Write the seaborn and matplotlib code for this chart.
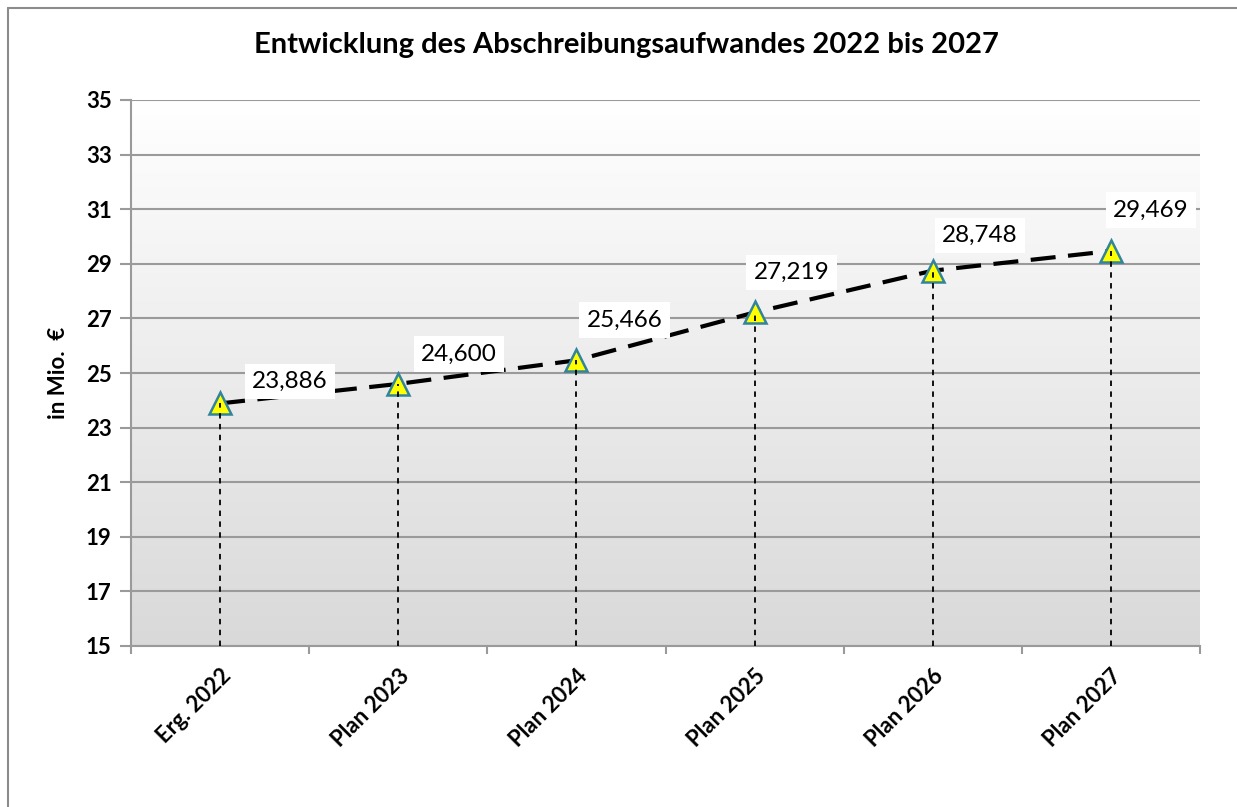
import numpy as np
import pandas as pd
import matplotlib
matplotlib.use("Agg")
import matplotlib.pyplot as plt
import seaborn as sns
from matplotlib.lines import Line2D

categories = ["Erg. 2022", "Plan 2023", "Plan 2024", "Plan 2025", "Plan 2026", "Plan 2027"]
values = [23.886, 24.600, 25.466, 27.219, 28.748, 29.469]
value_labels = ["23,886", "24,600", "25,466", "27,219", "28,748", "29,469"]
yticks = [15, 17, 19, 21, 23, 25, 27, 29, 31, 33, 35]

sns.set_theme(style="white")
plt.rcParams['font.family'] = ['Lato', 'DejaVu Sans']
plt.rcParams['text.color'] = 'black'
plt.rcParams['xtick.color'] = 'black'
plt.rcParams['ytick.color'] = 'black'
plt.rcParams['axes.labelcolor'] = 'black'

fig = plt.figure(figsize=(12.37, 8.07), dpi=100)
ax = fig.add_axes([131/1237, 1-646/807, (1200-131)/1237, (646-100)/807])

# outer border (left and top visible)
fig.lines.append(Line2D([8/1237, 8/1237], [0, 1-8/807], transform=fig.transFigure, color="#8c8c8c", linewidth=1.5))
fig.lines.append(Line2D([8/1237, 1], [1-8/807, 1-8/807], transform=fig.transFigure, color="#8c8c8c", linewidth=1.5))

df = pd.DataFrame({"cat": categories, "val": values})
x = np.arange(len(categories))

# gradient background
grad = np.linspace(0, 1, 256).reshape(-1, 1)
cmap = matplotlib.colors.LinearSegmentedColormap.from_list("g", ["#d9d9d9", "#ffffff"])
ax.imshow(grad, extent=[-0.5, 5.5, 15, 35], aspect="auto", cmap=cmap, origin="lower", zorder=0)
ax.set_xlim(-0.5, 5.5)
ax.set_ylim(15, 35)

for yt in yticks:
    ax.axhline(yt, color="#9a9a9a", linewidth=1.5, zorder=1)

ax.vlines(x, 15, values, colors="black", linestyles=(0, (3, 3)), linewidth=1.3, zorder=3)

sns.lineplot(x=x, y=df["val"], ax=ax, color="black", linewidth=3, linestyle=(0, (6, 3)), zorder=2)
ax.plot(x, values, linestyle="none", marker="^", markersize=16, markerfacecolor="#ffff00",
        markeredgecolor="#31849b", markeredgewidth=1.8, zorder=2.5)

offsets = [(70, 22), (61, 30), (48, 40), (37, 40), (47, 35), (40, 41)]
for xi, v, lab, off in zip(x, values, value_labels, offsets):
    ax.annotate(lab, (xi, v), xytext=off, textcoords="offset pixels", ha="center", va="center",
                fontsize=17.5, color="black", zorder=5,
                bbox=dict(boxstyle="square,pad=0.3", facecolor="white", edgecolor="none"))

ax.set_yticks(yticks)
ax.set_yticklabels([str(t) for t in yticks], fontsize=16, fontweight="bold")
ax.set_xticks(x)
ax.set_xticklabels(categories, rotation=45, ha="right", rotation_mode="anchor", fontsize=16, fontweight="bold")
ax.set_xticks(np.arange(-0.5, 6, 1), minor=True)
ax.tick_params(axis="x", which="major", length=0, pad=14)
ax.tick_params(axis="x", which="minor", length=6, color="#9a9a9a", width=1.5, direction="out", bottom=True)
ax.tick_params(axis="y", length=8, color="#9a9a9a", width=1.5, direction="out", left=True, pad=6)
ax.set_ylabel("in Mio.  €", fontsize=16, fontweight="bold", labelpad=12)
ax.set_xlabel("")

for s in ["top", "right"]:
    ax.spines[s].set_visible(False)
for s in ["left", "bottom"]:
    ax.spines[s].set_color("#9a9a9a")
    ax.spines[s].set_linewidth(1.5)

fig.text(626/1237, 1-45/807, "Entwicklung des Abschreibungsaufwandes 2022 bis 2027", ha="center", va="center",
         fontsize=21, fontweight="bold")

fig.savefig("out.png", dpi=100)
